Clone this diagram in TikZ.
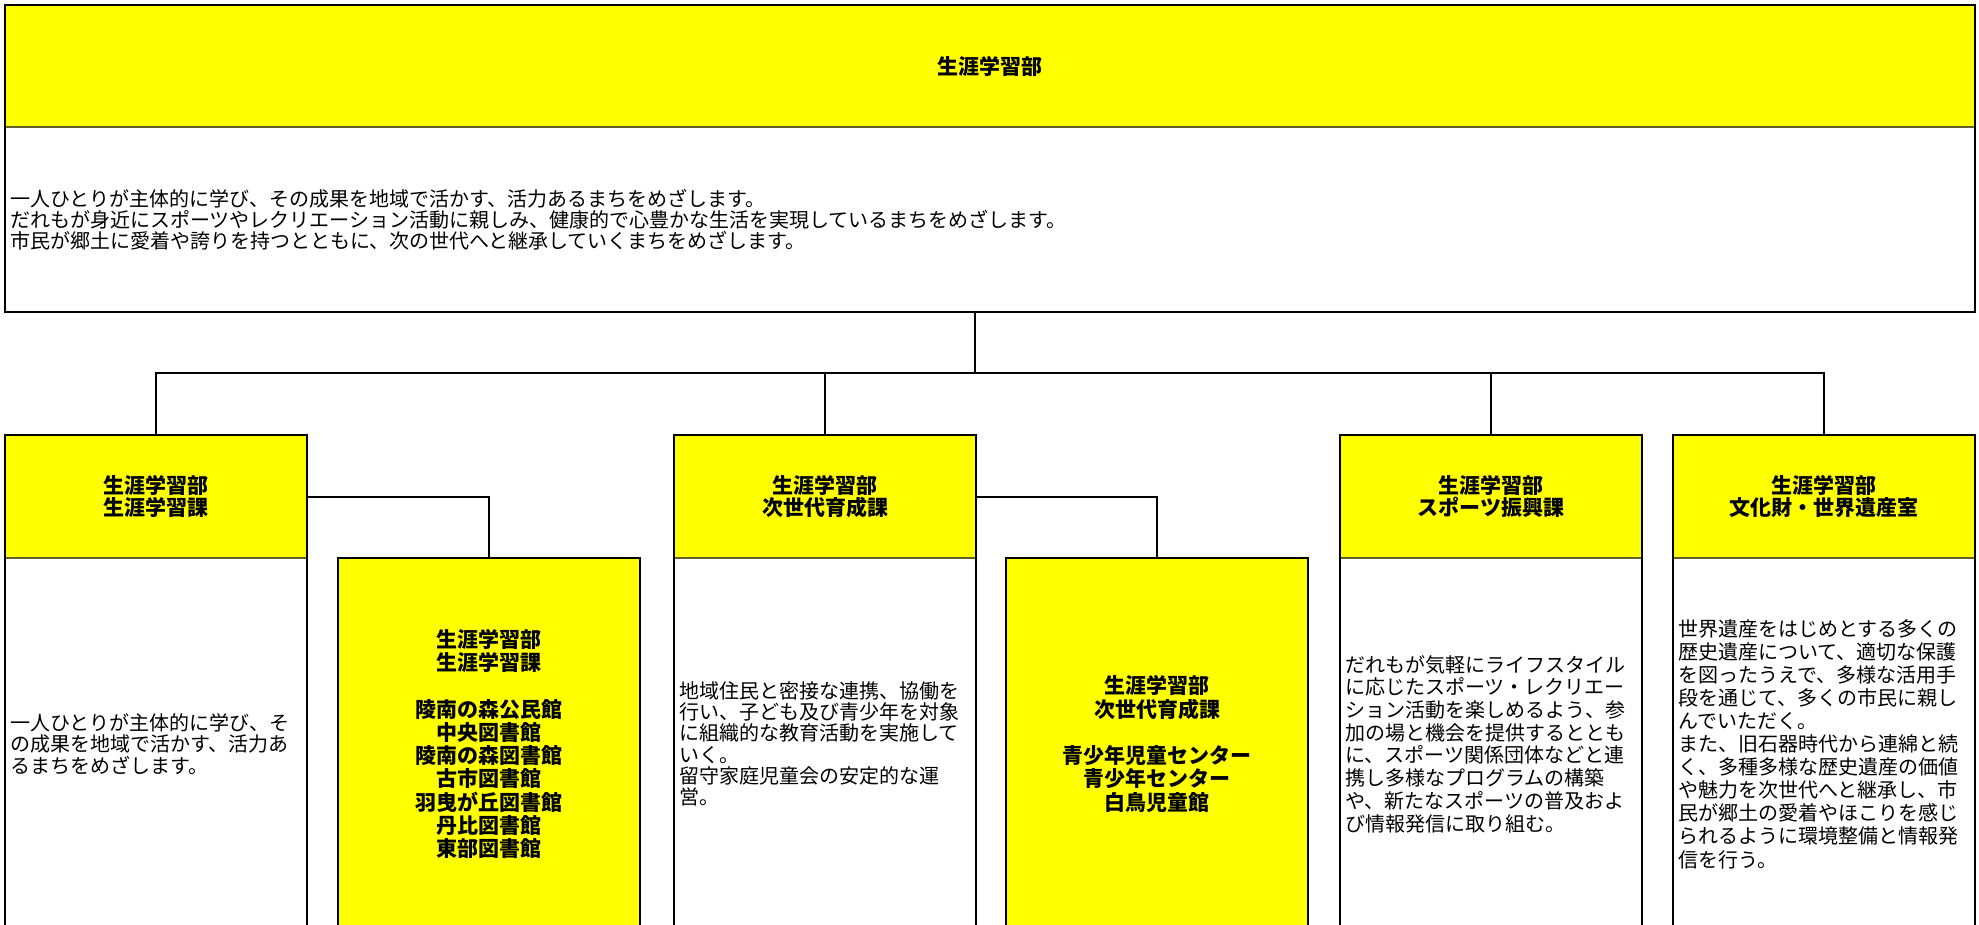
\documentclass[tikz,border=0pt]{standalone}
\usepackage{fontspec}
\newfontfamily\jpfont{Noto Sans CJK JP}
\usepackage{tikz}
\usetikzlibrary{positioning}

\definecolor{seamolive}{RGB}{96,96,40}
\definecolor{cellyellow}{RGB}{255,255,0}
\tikzset{
    cell/.style={draw=black, line width=2pt, outer sep=0pt, inner sep=0pt, anchor=north west, minimum width=302pt},
    headcell/.style={cell, fill=cellyellow, minimum height=123pt, align=center, font=\jpfont\bfseries\fontsize{21}{21.5}\selectfont},
    bodycell/.style={cell, fill=white, minimum height=372pt},
    tallcell/.style={cell, fill=cellyellow, minimum height=372pt, align=center, font=\jpfont\bfseries\fontsize{21}{23.3}\selectfont},
    celltext/.style={inner sep=0pt, anchor=west, align=left, font=\jpfont\fontsize{20}{22.5}\selectfont},
    seam/.style={draw=seamolive, line width=1.6pt, shorten <=1pt, shorten >=1pt},
    link/.style={draw=black, line width=2pt},
}

\begin{document}
\begin{tikzpicture}[x=1pt, y=-1pt]
            \useasboundingbox (0,0) rectangle (1979,925);

            \node[headcell, minimum width=1970pt, minimum height=122pt] (dept) at (5,5) {生涯学習部};
            \node[bodycell, minimum width=1970pt, minimum height=185pt, below=0pt of dept] (dept-body) {};
            \node[celltext, font=\jpfont\fontsize{20}{21}\selectfont, right=5pt of dept-body.west] (dept-text)
                {一人ひとりが主体的に学び、その成果を地域で活かす、活力あるまちをめざします。\\
                 だれもが身近にスポーツやレクリエーション活動に親しみ、健康的で心豊かな生活を実現しているまちをめざします。\\
                 市民が郷土に愛着や誇りを持つとともに、次の世代へと継承していくまちをめざします。};

            \node[headcell] (gakushu) at (5,435) {生涯学習部\\生涯学習課};
            \node[headcell] (jisedai) at (674,435) {生涯学習部\\次世代育成課};
            \node[headcell] (sports) at (1340,435) {生涯学習部\\スポーツ振興課};
            \node[headcell] (bunka) at (1673,435) {生涯学習部\\文化財・世界遺産室};
            \foreach \n in {gakushu, jisedai, sports, bunka}
                \node[bodycell, below=0pt of \n] (\n-body) {};
            \foreach \n in {dept, gakushu, jisedai, sports, bunka}
                \draw[seam] (\n.south west) -- (\n.south east);

            \node[tallcell] (shisetsu1) at (338,558)
                {生涯学習部\\生涯学習課\\[23.3pt]陵南の森公民館\\中央図書館\\陵南の森図書館\\古市図書館\\羽曳が丘図書館\\丹比図書館\\東部図書館};
            \node[tallcell] (shisetsu2) at (1006,558)
                {生涯学習部\\次世代育成課\\[23.3pt]青少年児童センター\\青少年センター\\白鳥児童館};

            \node[celltext, font=\jpfont\fontsize{20}{21.5}\selectfont, right=5pt of gakushu-body.west] (gakushu-text)
                {一人ひとりが主体的に学び、そ\\の成果を地域で活かす、活力あ\\るまちをめざします。};
            \node[celltext, font=\jpfont\fontsize{20}{21.3}\selectfont, right=5pt of jisedai-body.west] (jisedai-text)
                {地域住民と密接な連携、協働を\\行い、子ども及び青少年を対象\\に組織的な教育活動を実施して\\いく。\\留守家庭児童会の安定的な運\\営。};
            \node[celltext, font=\jpfont\fontsize{20}{22.7}\selectfont, right=5pt of sports-body.west] (sports-text)
                {だれもが気軽にライフスタイル\\に応じたスポーツ・レクリエー\\ション活動を楽しめるよう、参\\加の場と機会を提供するととも\\に、スポーツ関係団体などと連\\携し多様なプログラムの構築\\や、新たなスポーツの普及およ\\び情報発信に取り組む。};
            \node[celltext, font=\jpfont\fontsize{20}{23.1}\selectfont, right=5pt of bunka-body.west] (bunka-text)
                {世界遺産をはじめとする多くの\\歴史遺産について、適切な保護\\を図ったうえで、多様な活用手\\段を通じて、多くの市民に親し\\んでいただく。\\また、旧石器時代から連綿と続\\く、多種多様な歴史遺産の価値\\や魅力を次世代へと継承し、市\\民が郷土の愛着やほこりを感じ\\られるように環境整備と情報発\\信を行う。};

            \coordinate (hub) at (975,373);
            \draw[link] (hub |- dept-body.south) -- (hub);
            \draw[link] (gakushu.north) -- (gakushu.north |- hub) -- (bunka.north |- hub) -- (bunka.north);
            \foreach \n in {jisedai, sports}
                \draw[link] (\n.north |- hub) -- (\n.north);
            \draw[link] (gakushu.east) -| (shisetsu1.north);
            \draw[link] (jisedai.east) -| (shisetsu2.north);
\end{tikzpicture}
\end{document}
